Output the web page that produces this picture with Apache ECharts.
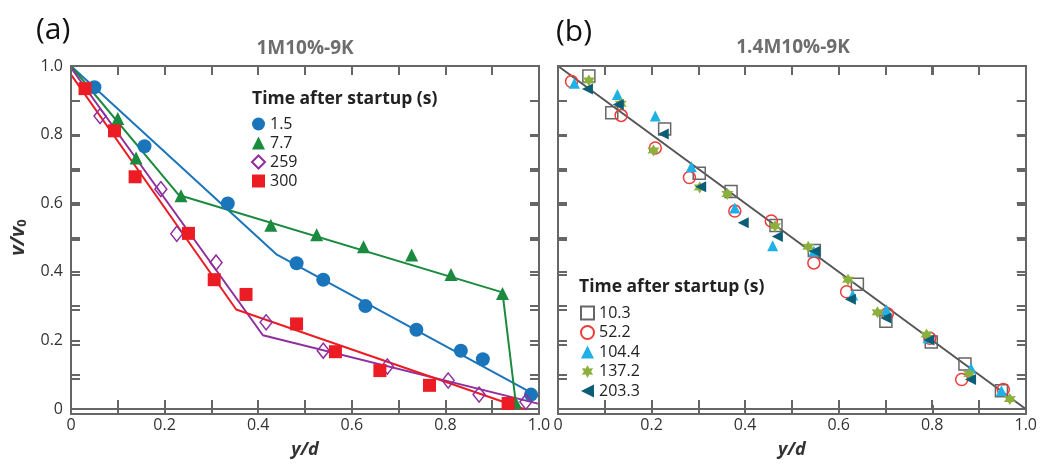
<!DOCTYPE html>
<html>
<head>
<meta charset="utf-8">
<script src="https://cdn.jsdelivr.net/npm/echarts@6/dist/echarts.min.js"></script>
<style>
  html, body { margin: 0; padding: 0; background: #fff; }
  #wrap { position: relative; width: 1040px; height: 464px; }
  #chart, #frame { position: absolute; left: 0; top: 0; width: 1040px; height: 464px; }
  #frame { pointer-events: none; }
</style>
</head>
<body>
<div id="wrap">
  <div id="chart"></div>
  <div id="frame"></div>
</div>
<script>
// tick labels (every 0.2, ticks every 0.1)
const tickLabels = ['0', '0.2', '0.4', '0.6', '0.8', '1.0']

// panel (a): 1M10%-9K, [y/d, v/v0]
const namesA = ['1.5', '7.7', '259', '300']
const a1_5 = [[0.050, 0.938], [0.157, 0.766], [0.335, 0.599], [0.482, 0.425], [0.539, 0.377],
  [0.629, 0.300], [0.738, 0.231], [0.833, 0.170], [0.880, 0.145], [0.983, 0.042]]
const a7_7 = [[0.100, 0.847], [0.139, 0.732], [0.235, 0.622], [0.427, 0.536], [0.525, 0.508],
  [0.625, 0.473], [0.728, 0.449], [0.812, 0.392], [0.922, 0.337], [0.949, 0.021]]
const a259 = [[0.062, 0.854], [0.192, 0.641], [0.226, 0.511], [0.310, 0.427], [0.417, 0.253],
  [0.539, 0.170], [0.676, 0.124], [0.806, 0.083], [0.872, 0.042], [0.972, 0.021]]
const a300 = [[0.030, 0.934], [0.093, 0.811], [0.137, 0.677], [0.251, 0.512], [0.306, 0.377],
  [0.374, 0.334], [0.482, 0.248], [0.565, 0.167], [0.660, 0.112], [0.766, 0.069], [0.934, 0.016]]
// fitted piecewise lines
const fit1_5 = [[0, 1], [0.44, 0.45], [1.0, 0.035]]
const fit7_7 = [[0, 1], [0.23, 0.624], [0.922, 0.34], [0.952, 0]]
const fit259 = [[0, 0.995], [0.41, 0.215], [1.0, 0.015]]
const fit300 = [[0, 0.975], [0.353, 0.29], [0.968, 0]]

// panel (b): 1.4M10%-9K
const namesB = ['10.3', '52.2', '104.4', '137.2', '203.3']
const b10_3 = [[0.066, 0.971], [0.115, 0.864], [0.228, 0.816], [0.302, 0.687], [0.370, 0.634], [0.466, 0.535],
  [0.548, 0.462], [0.640, 0.364], [0.701, 0.256], [0.798, 0.195], [0.870, 0.131], [0.948, 0.053]]
const b52_2 = [[0.029, 0.955], [0.135, 0.856], [0.208, 0.761], [0.281, 0.675], [0.378, 0.577], [0.456, 0.548],
  [0.547, 0.426], [0.617, 0.342], [0.704, 0.278], [0.795, 0.206], [0.863, 0.086], [0.952, 0.057]]
const b104_4 = [[0.035, 0.950], [0.127, 0.917], [0.208, 0.854], [0.285, 0.706], [0.378, 0.586], [0.459, 0.476],
  [0.547, 0.460], [0.630, 0.332], [0.702, 0.289], [0.791, 0.208], [0.883, 0.119], [0.948, 0.053]]
const b137_2 = [[0.066, 0.958], [0.134, 0.890], [0.204, 0.754], [0.303, 0.646], [0.362, 0.627], [0.464, 0.533],
  [0.535, 0.473], [0.620, 0.377], [0.683, 0.282], [0.788, 0.217], [0.879, 0.102], [0.966, 0.029]]
const b203_3 = [[0.063, 0.933], [0.129, 0.888], [0.225, 0.802], [0.305, 0.648], [0.396, 0.543], [0.469, 0.503],
  [0.549, 0.460], [0.625, 0.320], [0.701, 0.265], [0.793, 0.201], [0.882, 0.086]]
const fitB = [[0, 1], [1, 0]]

const FONT = '"Open Sans"'
const AXIS_COLOR = '#666'
const LEFT_TRI = 'path://M10 0 L10 10 L0 5 Z'
const PANELS = [{ left: 71, top: 66, width: 468, height: 348 }, { left: 558, top: 66, width: 468, height: 348 }]

// 6-point star symbol
function starPath(n, r1, r2) {
  let d = ''
  for (let i = 0; i < 2 * n; i++) {
    const ang = -Math.PI / 2 + i * Math.PI / n
    const r = i % 2 ? r2 : r1
    d += (i ? 'L' : 'M') + (r * Math.cos(ang)).toFixed(3) + ' ' + (r * Math.sin(ang)).toFixed(3)
  }
  return 'path://' + d + 'Z'
}

function tickFmt(v) {
  const k = Math.round(v * 10)
  return k % 2 === 0 ? tickLabels[k / 2] : ''
}

// second x axis of a grid goes on top, second y axis on the right by default
function axisBase(grid) {
  return {
    type: 'value', gridIndex: grid, min: 0, max: 1, interval: 0.1,
    axisLine: { show: true, onZero: false, lineStyle: { color: AXIS_COLOR, width: 2 } },
    axisTick: { show: true, inside: true, length: 9, lineStyle: { color: AXIS_COLOR, width: 2 } },
    splitLine: { show: false }
  }
}

function xAx(grid, withLabel) {
  return Object.assign(axisBase(grid), {
    axisLabel: { show: withLabel, formatter: tickFmt, fontSize: 16, color: '#333' },
    name: withLabel ? 'y/d' : '', nameLocation: 'middle', nameGap: 32,
    nameTextStyle: { fontFamily: 'Open Sans', fontSize: 18, fontWeight: 'bold', fontStyle: 'italic', color: '#333' }
  })
}

function yAx(grid, withLabel, withName) {
  return Object.assign(axisBase(grid), {
    axisLabel: { show: withLabel, formatter: tickFmt, fontSize: 16, color: '#333' },
    name: withName ? '{a|v/v}{b|0}' : '', nameLocation: 'middle', nameGap: 42,
    nameTextStyle: {
      rich: {
        a: { fontFamily: 'Open Sans', fontSize: 20, fontWeight: 'bold', fontStyle: 'italic', color: '#333' },
        b: { fontFamily: 'Open Sans', fontSize: 13, fontWeight: 'bold', color: '#333', padding: [8, 0, 0, 0] }
      }
    }
  })
}

function fitLine(name, data, color, x, y) {
  return {
    name: name, type: 'line', xAxisIndex: x, yAxisIndex: y, data: data,
    showSymbol: false, symbol: 'none', silent: true,
    lineStyle: { color: color, width: 2 }, z: 1
  }
}

function pts(name, data, x, y, symbol, size, style, rotate) {
  return {
    name: name, type: 'scatter', xAxisIndex: x, yAxisIndex: y, data: data,
    symbol: symbol, symbolSize: size, symbolRotate: rotate || 0,
    itemStyle: Object.assign({ opacity: 1 }, style), z: 3
  }
}

const BLUE = '#1b75bb', GREEN = '#1a8a3e', PURPLE = '#8f2f9e', RED = '#ec1c24'
const hollow = c => ({ color: 'rgba(255,255,255,0)', borderColor: c, borderWidth: 1.5 })

const chart = echarts.init(document.getElementById('chart'), null, { renderer: 'canvas' })
chart.setOption({
  animation: false,
  textStyle: { fontFamily: 'Open Sans' },
  grid: PANELS,
  // x: 0 bottom (a), 1 top (a), 2 bottom (b), 3 top (b); y likewise left/right
  xAxis: [xAx(0, true), xAx(0, false), xAx(1, true), xAx(1, false)],
  yAxis: [yAx(0, true, true), yAx(0, false, false), yAx(1, false, false), yAx(1, false, false)],
  legend: [
    {
      data: namesA, orient: 'vertical', left: 246, top: 111, itemWidth: 13, itemHeight: 13, itemGap: 3,
      textStyle: { fontFamily: 'Open Sans', fontSize: 16, color: '#222' }
    },
    {
      data: namesB.map(n => n === '203.3' ? { name: n, icon: LEFT_TRI } : n),
      orient: 'vertical', left: 575, top: 300, itemWidth: 13, itemHeight: 13, itemGap: 3.5,
      textStyle: { fontFamily: 'Open Sans', fontSize: 16, color: '#222' }
    }
  ],
  graphic: [
    { type: 'text', x: 36, y: 30, style: { text: '(a)', font: '30px ' + FONT, fill: '#111', verticalAlign: 'middle' } },
    { type: 'text', x: 556, y: 32, style: { text: '(b)', font: '30px ' + FONT, fill: '#111', verticalAlign: 'middle' } },
    { type: 'text', x: 305, y: 49, style: { text: '1M10%-9K', font: 'bold 19px ' + FONT, fill: '#6d6d6d', align: 'center', verticalAlign: 'middle' } },
    { type: 'text', x: 793, y: 48, style: { text: '1.4M10%-9K', font: 'bold 19px ' + FONT, fill: '#6d6d6d', align: 'center', verticalAlign: 'middle' } },
    { type: 'text', x: 252, y: 99, style: { text: 'Time after startup (s)', font: 'bold 17.5px ' + FONT, fill: '#222', verticalAlign: 'middle' } },
    { type: 'text', x: 579, y: 287, style: { text: 'Time after startup (s)', font: 'bold 17.5px ' + FONT, fill: '#222', verticalAlign: 'middle' } }
  ],
  series: [
    fitLine('fit 1.5', fit1_5, BLUE, 0, 0),
    fitLine('fit 7.7', fit7_7, GREEN, 0, 0),
    fitLine('fit 259', fit259, PURPLE, 0, 0),
    fitLine('fit 300', fit300, RED, 0, 0),
    pts('1.5', a1_5, 0, 0, 'circle', 14, { color: BLUE }),
    pts('7.7', a7_7, 0, 0, 'triangle', 13, { color: GREEN }),
    pts('259', a259, 0, 0, 'diamond', [12, 15], hollow(PURPLE)),
    pts('300', a300, 0, 0, 'rect', 13, { color: RED }),

    fitLine('fit b', fitB, '#555', 2, 2),
    pts('10.3', b10_3, 2, 2, 'rect', 12, hollow('#666')),
    pts('52.2', b52_2, 2, 2, 'circle', 12, hollow('#ee3b3b')),
    pts('104.4', b104_4, 2, 2, 'triangle', 11, { color: '#1fb0e6' }),
    pts('137.2', b137_2, 2, 2, starPath(6, 1, 0.55), 12, { color: '#8cb03c' }),
    pts('203.3', b203_3, 2, 2, 'triangle', 11, { color: '#0b5e76' }, 90)
  ]
})

// frame with inward ticks on all four sides, drawn by a plain second instance:
// grids 0/2 give bottom + left edges, grids 1/3 (inverse axes, lines sit on zero)
// give top + right edges
function frameAxis(grid, inverse) {
  return {
    type: 'value', gridIndex: grid, min: 0, max: 1, interval: 0.1, inverse: inverse,
    axisLine: { show: true, lineStyle: { color: AXIS_COLOR, width: 2 } },
    axisTick: { show: true, inside: !inverse, length: 9, lineStyle: { color: AXIS_COLOR, width: 2 } },
    axisLabel: { show: true, color: 'rgba(0,0,0,0)' },
    splitLine: { show: false }
  }
}
const frameGrids = [PANELS[0], PANELS[0], PANELS[1], PANELS[1]]
const frame = echarts.init(document.getElementById('frame'))
frame.setOption({
  animation: false,
  grid: frameGrids,
  xAxis: frameGrids.map((g, i) => frameAxis(i, i % 2 === 1)),
  yAxis: frameGrids.map((g, i) => frameAxis(i, i % 2 === 1)),
  series: frameGrids.map((g, i) => ({ type: 'scatter', xAxisIndex: i, yAxisIndex: i, data: [], silent: true }))
})
</script>
</body>
</html>
